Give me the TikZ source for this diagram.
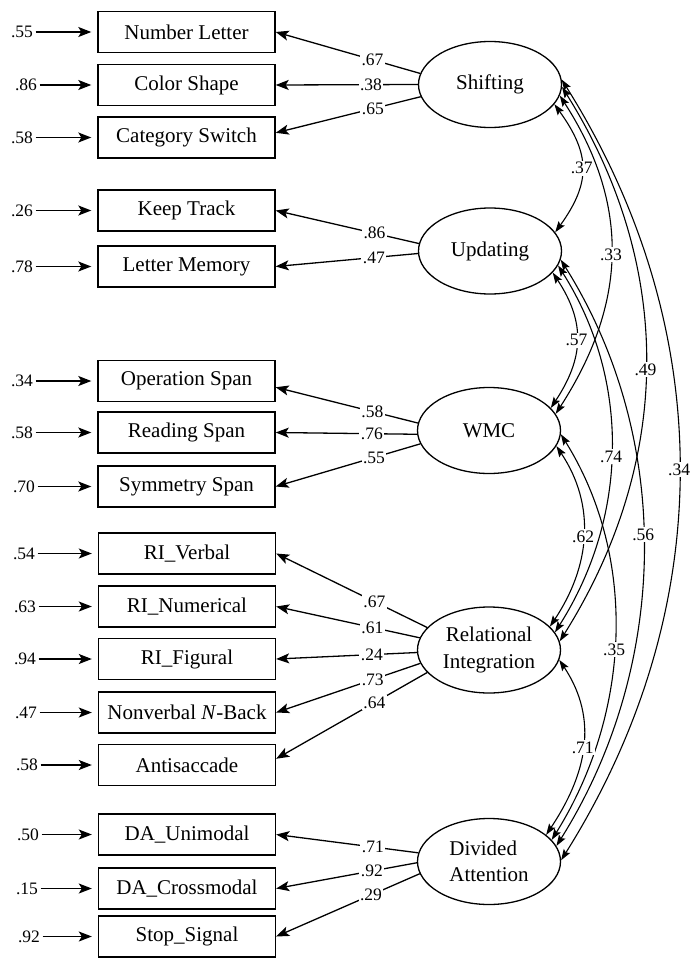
\documentclass[tikz,border=0pt]{standalone}
\usepackage{fontspec}
\setmainfont{Liberation Serif}
\usetikzlibrary{arrows.meta,shapes.geometric}
\begin{document}
\begin{tikzpicture}[x=1pt,y=1pt,
 obs/.style={draw,line width=1.4pt,minimum width=177pt,minimum height=41pt,inner sep=0pt,font=\fontsize{21}{25}\selectfont},
 lat/.style={draw,ellipse,line width=1.3pt,minimum width=143pt,minimum height=86pt,inner sep=0pt,align=center,font=\fontsize{21}{26.5}\selectfont},
 errlab/.style={inner sep=2.5pt,font=\fontsize{17.5}{20}\selectfont},
 lab/.style={fill=white,inner sep=1.5pt,font=\fontsize{17.5}{20}\selectfont},
 err/.style={line width=1.3pt,-{Stealth[length=13pt,width=10pt,inset=3pt]},shorten >=6pt},
 load/.style={line width=1.3pt,-{Stealth[length=13pt,width=10pt,inset=3pt]}},
 cov/.style={line width=1.1pt,{Stealth[length=11pt,width=7.5pt,inset=2pt]}-{Stealth[length=11pt,width=7.5pt,inset=2pt]}}
]
\useasboundingbox (0,0) rectangle (692,-958);

% observed variables
\node[obs] (nl)   at (186.5,-32)    {Number Letter};
\node[obs] (cs)   at (186.5,-85)    {Color Shape};
\node[obs] (cat)  at (186.5,-137.5) {Category Switch};
\node[obs] (kt)   at (186.5,-210.5) {Keep Track};
\node[obs] (lm)   at (186.5,-266.5) {Letter Memory};
\node[obs] (ops)  at (186.5,-381)   {Operation Span};
\node[obs] (rs)   at (186.5,-432.5) {Reading Span};
\node[obs] (sym)  at (186.5,-486.5) {Symmetry Span};
\node[obs] (riv)  at (187,-553.5)   {RI\_Verbal};
\node[obs] (rin)  at (187,-606.5)   {RI\_Numerical};
\node[obs] (rif)  at (187,-659)     {RI\_Figural};
\node[obs] (nvb)  at (187,-712.5)   {Nonverbal \textit{N}-Back};
\node[obs] (anti) at (187,-765)     {Antisaccade};
\node[obs] (dau)  at (187,-834.5)   {DA\_Unimodal};
\node[obs] (dac)  at (187,-888.5)   {DA\_Crossmodal};
\node[obs] (stop) at (187,-936.5)   {Stop\_Signal};

% latent variables
\node[lat] (shift) at (490,-84.5) {Shifting};
\node[lat] (upd)   at (490,-251)  {Updating};
\node[lat] (wmc)   at (489,-430.5) {WMC};
\node[lat] (ri)    at (489,-650)  {Relational\\Integration};
\node[lat,align=left] (da) at (489,-861.5) {Divided\\Attention};

% error terms
\node[errlab] (e1)  at (22,-32)    {.55};
\node[errlab] (e2)  at (26,-85)    {.86};
\node[errlab] (e3)  at (22,-137.5) {.58};
\node[errlab] (e4)  at (22,-210.5) {.26};
\node[errlab] (e5)  at (22,-266.5) {.78};
\node[errlab] (e6)  at (22,-381)   {.34};
\node[errlab] (e7)  at (22,-432.5) {.58};
\node[errlab] (e8)  at (24,-486.5) {.70};
\node[errlab] (e9)  at (24,-553.5) {.54};
\node[errlab] (e10) at (25,-606.5) {.63};
\node[errlab] (e11) at (25,-659)   {.94};
\node[errlab] (e12) at (26,-712.5) {.47};
\node[errlab] (e13) at (27,-765)   {.58};
\node[errlab] (e14) at (28,-834.5) {.50};
\node[errlab] (e15) at (27,-888.5) {.15};
\node[errlab] (e16) at (29,-936.5) {.92};

\draw[err] (e1) -- (nl);
\draw[err] (e2) -- (cs);
\draw[err] (e3) -- (cat);
\draw[err] (e4) -- (kt);
\draw[err] (e5) -- (lm);
\draw[err] (e6) -- (ops);
\draw[err] (e7) -- (rs);
\draw[err] (e8) -- (sym);
\draw[err] (e9) -- (riv);
\draw[err] (e10) -- (rin);
\draw[err] (e11) -- (rif);
\draw[err] (e12) -- (nvb);
\draw[err] (e13) -- (anti);
\draw[err] (e14) -- (dau);
\draw[err] (e15) -- (dac);
\draw[err] (e16) -- (stop);

% loadings
\draw[load] (shift.171) -- node[lab,pos=0.33]{.67} (nl.east);
\draw[load] (shift.180) -- node[lab,pos=0.33]{.38} (cs.east);
\draw[load] (shift.190) -- node[lab,pos=0.33]{.65} (cat.3);
\draw[load] (upd.174) -- node[lab,pos=0.31]{.86} (kt.east);
\draw[load] (upd.182) -- node[lab,pos=0.31]{.47} (lm.east);
\draw[load] (wmc.174) -- node[lab,pos=0.32]{.58} (ops.-4);
\draw[load] (wmc.183) -- node[lab,pos=0.32]{.76} (rs.east);
\draw[load] (wmc.191.5) -- node[lab,pos=0.32]{.55} (sym.east);
\draw[load] (ri.160) -- node[lab,pos=0.35]{.67} (riv.east);
\draw[load] (ri.170) -- node[lab,pos=0.33]{.61} (rin.east);
\draw[load] (ri.182) -- node[lab,pos=0.32]{.24} (rif.east);
\draw[load] (ri.191) -- node[lab,pos=0.33]{.73} (nvb.east);
\draw[load] (ri.200) -- node[lab,pos=0.35]{.64} (anti.4.5);
\draw[load] (da.173) -- node[lab,pos=0.32]{.71} (dau.east);
\draw[load] (da.181) -- node[lab,pos=0.32]{.92} (dac.east);
\draw[load] (da.190.7) -- node[lab,pos=0.34]{.29} (stop.east);

% covariances
\draw[cov] (shift.-17) .. controls +(36,-50) and +(36,50) .. node[lab]{.37} (upd.16);
\draw[cov] (shift.-9.5) .. controls +(71,-110) and +(71,110) .. node[lab]{.33} (wmc.14);
\draw[cov] (shift.-2) .. controls +(113,-180) and +(113,180) .. node[lab,pos=0.51]{.49} (ri.7);
\draw[cov] (shift.4.5) .. controls +(157,-250) and +(157,250) .. node[lab]{.34} (da.1.5);
\draw[cov] (upd.-19) .. controls +(33,-50) and +(33,50) .. node[lab]{.57} (wmc.20);
\draw[cov] (upd.-12) .. controls +(73,-115) and +(73,115) .. node[lab,pos=0.52]{.74} (ri.15);
\draw[cov] (upd.-7) .. controls +(113,-180) and +(113,180) .. node[lab,pos=0.47]{.56} (da.13);
\draw[cov] (wmc.-13) .. controls +(40,-60) and +(40,60) .. node[lab]{.62} (ri.21);
\draw[cov] (wmc.-3) .. controls +(78,-125) and +(78,125) .. node[lab,pos=0.53]{.35} (da.19);
\draw[cov] (ri.-8) .. controls +(40,-60) and +(40,60) .. node[lab]{.71} (da.25);
\end{tikzpicture}
\end{document}
